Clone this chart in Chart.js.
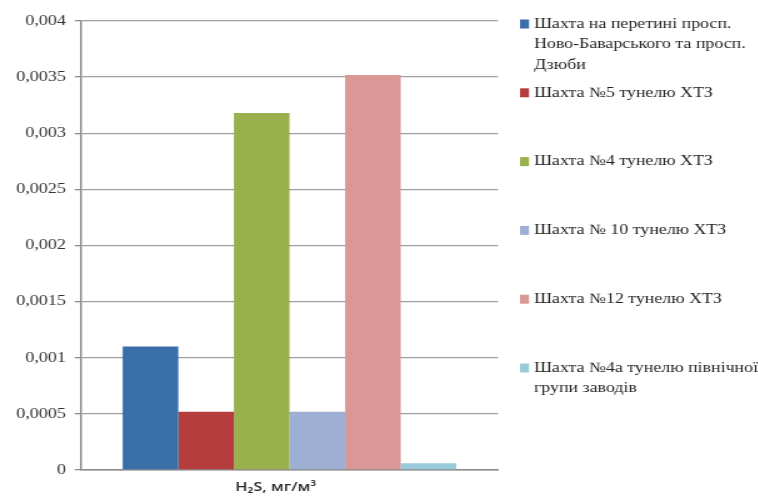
<!DOCTYPE html>
<html>
<head>
<meta charset="utf-8">
<script src="https://cdn.jsdelivr.net/npm/chart.js@4/dist/chart.umd.min.js"></script>
<style>
  html, body { margin: 0; padding: 0; background: #fff; overflow: hidden; }
  /* The chart is laid out on a 606px-wide canvas and shown 1.25x wider,
     which gives the wide-set lettering of the original figure. */
  #wrap { width: 606px; height: 500px; transform: scaleX(1.25); transform-origin: 0 0; }
  #c { display: block; }
</style>
</head>
<body>
<div id="wrap"><canvas id="c" width="606" height="500"></canvas></div>
<script>
const categories = ['H₂S, мг/м³'];

const seriesLabels = [
  ['Шахта на перетині просп.', 'Ново-Баварського та просп.', 'Дзюби'],
  ['Шахта №5 тунелю ХТЗ'],
  ['Шахта №4 тунелю ХТЗ'],
  ['Шахта № 10 тунелю ХТЗ'],
  ['Шахта №12 тунелю ХТЗ'],
  ['Шахта №4а тунелю північної', 'групи заводів']
];

const seriesValues = [0.0011, 0.00052, 0.00318, 0.00052, 0.00352, 0.00006];

const seriesColors = ['#3a6ea9', '#b53d3d', '#9ab04c', '#9db0d3', '#d99795', '#9acada'];

const yTickValues = [0, 0.0005, 0.001, 0.0015, 0.002, 0.0025, 0.003, 0.0035, 0.004];
const yTickLabels = ['0', '0,0005', '0,001', '0,0015', '0,002', '0,0025', '0,003', '0,0035', '0,004'];

// Legend on the right: a colour square and one or more text lines per shaft
const sideLegend = {
  id: 'sideLegend',
  afterDraw(chart) {
    const ctx = chart.ctx;
    ctx.save();
    ctx.font = '14.3px "Liberation Serif"';
    ctx.textBaseline = 'middle';
    chart.data.datasets.forEach((ds, i) => {
      const y0 = 24 + i * 68.8;
      ctx.fillStyle = ds.backgroundColor;
      ctx.fillRect(416, y0 - 4.5, 7.2, 9);
      ctx.fillStyle = '#1e1e1e';
      seriesLabels[i].forEach((line, k) => ctx.fillText(line, 427.2, y0 + k * 20.5));
    });
    ctx.restore();
  }
};

new Chart(document.getElementById('c'), {
  type: 'bar',
  data: {
    labels: categories,
    datasets: seriesLabels.map((lines, i) => ({
      label: lines.join(' '),
      data: [seriesValues[i]],
      backgroundColor: seriesColors[i],
      borderWidth: 0,
      categoryPercentage: 0.8,
      barPercentage: 1
    }))
  },
  options: {
    responsive: false,
    animation: false,
    devicePixelRatio: 1,
    layout: { padding: { top: 21, right: 207.6, bottom: 0, left: 0 } },
    plugins: { legend: { display: false }, tooltip: { enabled: false } },
    scales: {
      x: {
        grid: { display: false, drawTicks: false },
        border: { display: true, color: '#8c8c8c', width: 1.5 },
        ticks: {
          font: { family: '"Open Sans"', size: 13, weight: '600' },
          color: '#2a2a2a',
          padding: 9,
          labelOffset: -11,
          maxRotation: 0
        },
        afterFit(s) { s.height = 30; }
      },
      y: {
        min: 0,
        max: 0.004,
        afterBuildTicks(s) { s.ticks = yTickValues.map(v => ({ value: v })); },
        ticks: {
          callback: (v, i) => yTickLabels[i],
          font: { family: '"Liberation Serif"', size: 14.5 },
          color: '#333333',
          padding: 7
        },
        grid: { color: '#a0a0a0', lineWidth: 1.3, tickLength: 5, tickColor: '#8c8c8c' },
        border: { color: '#8c8c8c', width: 1.5 },
        afterFit(s) { s.width = 64.8; }
      }
    }
  },
  plugins: [sideLegend]
});
</script>
</body>
</html>
